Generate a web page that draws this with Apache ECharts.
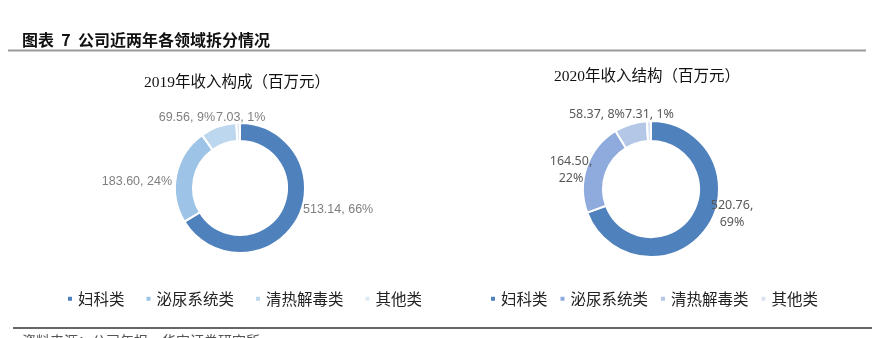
<!DOCTYPE html>
<html>
<head>
<meta charset="utf-8">
<script src="https://cdn.jsdelivr.net/npm/echarts@6/dist/echarts.min.js"></script>
<style>
  html, body { margin: 0; padding: 0; background: #fff; }
  #chart { width: 872px; height: 338px; }
</style>
</head>
<body>
<div id="chart"></div>
<script>
// Revenue by product line (million yuan)
const categories = ['妇科类', '泌尿系统类', '清热解毒类', '其他类'];
const revenue2019 = [513.14, 183.60, 69.56, 7.03];
const revenue2020 = [520.76, 164.50, 58.37, 7.31];
const pieTitles = ['2019年收入构成（百万元）', '2020年收入结构（百万元）'];
const heading = '图表  7  公司近两年各领域拆分情况';
const sourceNote = '资料来源：公司年报，华安证券研究所';

const colors2019 = ['#4f81bd', '#9dc3e6', '#bdd7ee', '#ddebf7'];
const colors2020 = ['#4f81bd', '#8faadc', '#b4c7e7', '#dae3f3'];

// label anchor placement per slice
const labelPos2019 = [
  { x: 303, y: 210, align: 'left' },
  { x: 172, y: 182, align: 'right' },
  { x: 215, y: 118, align: 'right' },
  { x: 216, y: 118, align: 'left' }
];
const labelPos2020 = [
  { x: 732, y: 214, align: 'center' },
  { x: 571, y: 170, align: 'center' },
  { x: 625, y: 114, align: 'right' },
  { x: 625, y: 114, align: 'left' }
];
const wrap2020 = [true, true, false, false];

function fmt(v, pct, wrap) {
  return v.toFixed(2) + (wrap ? ',\n' : ', ') + Math.round(pct) + '%';
}

function pieSeries(values, colors, center, radius, labelStyle, wrap, pos) {
  return {
    type: 'pie',
    center: center,
    radius: radius,
    startAngle: 90,
    clockwise: true,
    avoidLabelOverlap: false,
    silent: true,
    itemStyle: { borderColor: '#fff', borderWidth: 2 },
    label: Object.assign({
      show: true,
      position: 'outside',
      formatter: p => fmt(p.value, p.percent, wrap ? wrap[p.dataIndex] : false)
    }, labelStyle),
    labelLine: { show: false },
    labelLayout: p => {
      const q = pos[p.dataIndex];
      return { x: q.x, y: q.y, align: q.align, verticalAlign: 'middle' };
    },
    data: categories.map((n, i) => ({ name: n, value: values[i], itemStyle: { color: colors[i] } }))
  };
}

function legendFor(colors, left, gap) {
  return {
    left: left,
    top: 291,
    padding: 0,
    orient: 'horizontal',
    icon: 'rect',
    itemWidth: 6,
    itemHeight: 6,
    itemGap: gap,
    selectedMode: false,
    textStyle: { fontFamily: 'Noto Sans CJK SC', fontSize: 15.5, color: '#222' },
    data: categories.map((n, i) => ({ name: n, itemStyle: { color: colors[i] } }))
  };
}

const chart = echarts.init(document.getElementById('chart'), null, { renderer: 'canvas' });
chart.setOption({
  animation: false,
  backgroundColor: '#fff',
  legend: [legendFor(colors2019, 66, 20), legendFor(colors2020, 489, 11)],
  series: [
    pieSeries(revenue2019, colors2019, [240, 188], [47, 65],
      { fontFamily: 'Liberation Sans', fontSize: 12.5, color: '#7f7f7f' }, null, labelPos2019),
    pieSeries(revenue2020, colors2020, [651, 189], [48, 68],
      { fontFamily: 'Noto Sans', fontSize: 12.5, color: '#595959', lineHeight: 17, align: 'center' }, wrap2020, labelPos2020)
  ],
  graphic: [
    { type: 'text', x: 22, y: 40, style: { text: heading, verticalAlign: 'middle', fontFamily: 'Noto Sans CJK SC', fontWeight: 'bold', fontSize: 16, fill: '#111' } },
    { type: 'line', shape: { x1: 8, y1: 50.5, x2: 866, y2: 50.5 }, style: { stroke: '#9a9a9a', lineWidth: 2 } },
    { type: 'text', x: 237, y: 83, style: { text: pieTitles[0], align: 'center', verticalAlign: 'middle', fontFamily: 'Liberation Serif, Noto Sans CJK SC', fontSize: 15.5, fill: '#111' } },
    { type: 'text', x: 647, y: 77, style: { text: pieTitles[1], align: 'center', verticalAlign: 'middle', fontFamily: 'Liberation Serif, Noto Sans CJK SC', fontSize: 15.5, fill: '#111' } },
    { type: 'line', shape: { x1: 13, y1: 328, x2: 872, y2: 328 }, style: { stroke: '#333', lineWidth: 1.5 } },
    { type: 'text', x: 22, y: 334, style: { text: sourceNote, verticalAlign: 'top', fontFamily: 'Noto Sans CJK SC', fontSize: 14, fill: '#555' } }
  ]
});
</script>
</body>
</html>
